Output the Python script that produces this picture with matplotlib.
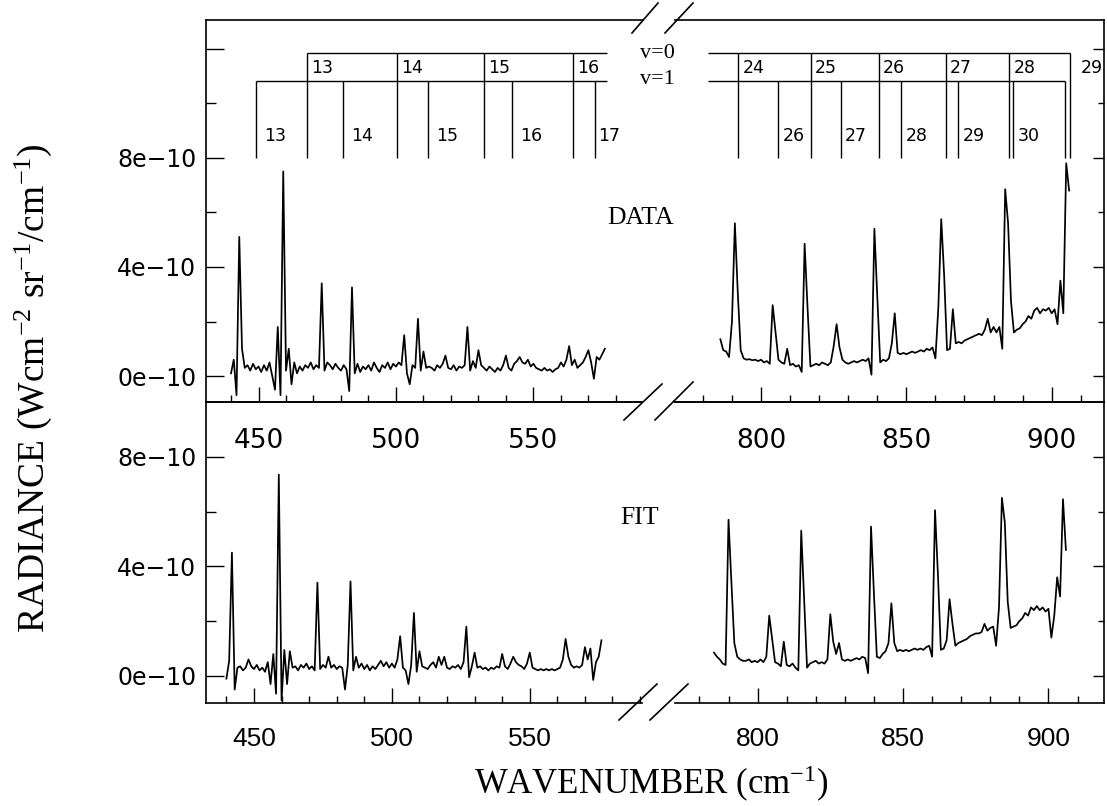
import numpy as np
import matplotlib
matplotlib.use("Agg")
import matplotlib.pyplot as plt
from matplotlib.lines import Line2D
from matplotlib.ticker import FixedLocator, MultipleLocator, FuncFormatter
from matplotlib import font_manager

plt.rcParams['mathtext.fontset'] = 'custom'
plt.rcParams['mathtext.rm'] = 'Liberation Serif'
plt.rcParams['mathtext.it'] = 'Liberation Serif:italic'

SCALE = 1e-10  # radiance values below are in units of 1e-10 W cm^-2 sr^-1 / cm^-1

# ---------------- data ----------------
wn_left_first, wn_left_last = 440, 576
wn_data_right_first, wn_data_right_last = 786, 906
wn_fit_right_first, wn_fit_right_last = 785, 906

data_left = [
    0.1, 0.6, -0.7, 5.1, 1.0, 0.3, 0.4, 0.2, 0.45, 0.25,
    0.35, 0.15, 0.4, 0.2, 0.5, 0.0, -0.5, 1.8, -0.7, 7.5,
    0.2, 1.0, -0.3, 0.5, 0.1, 0.35, 0.2, 0.4, 0.3, 0.5,
    0.25, 0.4, 0.3, 3.4, 0.2, 0.5, 0.4, 0.25, 0.45, 0.3,
    0.2, 0.4, 0.25, -0.55, 3.25, 0.1, 0.45, 0.15, 0.35, 0.25,
    0.4, 0.2, 0.5, 0.3, 0.15, 0.4, 0.3, 0.5, 0.25, 0.45,
    0.35, 0.5, 0.4, 1.5, 0.1, -0.3, 0.4, 0.3, 2.1, 0.2,
    0.9, 0.3, 0.35, 0.3, 0.2, 0.4, 0.3, 0.45, 0.75, 0.3,
    0.25, 0.4, 0.2, 0.35, 0.3, 0.4, 1.8, 0.2, 0.55, 0.3,
    0.95, 0.4, 0.3, 0.2, 0.35, 0.25, 0.15, 0.3, 0.2, 0.4,
    0.75, 0.3, 0.2, 0.45, 0.55, 0.7, 0.5, 0.45, 0.6, 0.35,
    0.45, 0.3, 0.25, 0.2, 0.3, 0.2, 0.25, 0.15, 0.25, 0.3,
    0.5, 0.35, 0.6, 1.1, 0.4, 0.6, 0.3, 0.4, 0.5, 0.7,
    0.95, 0.5, -0.1, 0.7, 0.6, 0.8, 1.0,
]

data_right = [
    1.35, 0.95, 0.9, 0.7, 2.0, 5.6, 3.05, 0.95, 0.65, 0.6,
    0.62, 0.58, 0.6, 0.55, 0.6, 0.5, 0.55, 0.45, 2.6, 1.6,
    0.6, 0.5, 0.45, 1.0, 0.4, 0.45, 0.35, 0.4, 0.15, 4.85,
    2.5, 0.35, 0.4, 0.45, 0.4, 0.5, 0.45, 0.4, 0.5, 1.1,
    1.9, 1.05, 0.6, 0.5, 0.45, 0.5, 0.55, 0.5, 0.55, 0.6,
    0.55, 0.65, 0.05, 5.4, 2.9, 0.5, 0.6, 0.55, 0.65, 1.2,
    2.3, 0.85, 0.8, 0.85, 0.8, 0.85, 0.9, 0.85, 0.9, 0.95,
    0.9, 1.0, 0.95, 1.05, 0.65, 2.5, 5.75, 3.7, 0.95, 1.0,
    2.45, 1.2, 1.25, 1.2, 1.3, 1.35, 1.4, 1.45, 1.5, 1.55,
    1.5, 1.7, 2.1, 1.6, 1.8, 1.6, 1.8, 1.0, 6.85, 5.6,
    2.75, 1.6, 1.7, 1.75, 1.9, 2.0, 2.2, 2.1, 2.4, 2.5,
    2.3, 2.45, 2.4, 2.5, 2.3, 2.45, 1.9, 3.5, 2.3, 7.8,
    6.8,
]

fit_left = [
    -0.1, 0.55, 4.5, -0.5, 0.3, 0.35, 0.2, 0.3, 0.6, 0.35,
    0.25, 0.4, 0.2, 0.3, 0.15, 0.5, -0.3, 0.8, -0.65, 7.35,
    -0.9, 0.95, -0.3, 0.9, 0.3, 0.35, 0.2, 0.4, 0.3, 0.45,
    0.25, 0.35, 0.2, 3.4, 0.25, 0.4, 0.3, 0.7, 0.3, 0.4,
    0.25, 0.35, 0.3, -0.5, 0.4, 3.45, 0.2, 0.7, 0.3, 0.45,
    0.25, 0.4, 0.2, 0.35, 0.25, 0.4, 0.55, 0.35, 0.5, 0.3,
    0.45, 0.3, 0.6, 1.45, 0.3, 0.2, -0.3, 0.4, 2.3, 0.15,
    0.9, 0.35, 0.3, 0.25, 0.4, 0.5, 0.3, 0.7, 0.4, 0.7,
    0.3, 0.25, 0.35, 0.3, 0.4, 0.25, 0.5, 1.8, -0.05, 0.35,
    0.85, 0.3, 0.35, 0.25, 0.3, 0.2, 0.3, 0.25, 0.35, 0.3,
    0.8, 0.35, 0.25, 0.45, 0.7, 0.5, 0.4, 0.35, 0.25, 0.45,
    0.85, 0.3, 0.25, 0.2, 0.25, 0.2, 0.25, 0.2, 0.25, 0.2,
    0.25, 0.3, 0.6, 1.35, 0.7, 0.4, 0.3, 0.35, 0.3, 0.4,
    1.05, 0.6, 1.0, -0.15, 0.5, 0.7, 1.3,
]

fit_right = [
    0.85, 0.7, 0.6, 0.45, 0.4, 5.7, 3.4, 1.2, 0.7, 0.6,
    0.55, 0.55, 0.6, 0.5, 0.55, 0.5, 0.6, 0.5, 0.7, 2.2,
    1.35, 0.5, 0.45, 0.35, 1.25, 0.4, 0.35, 0.45, 0.3, 0.2,
    5.3, 2.8, 0.3, 0.45, 0.5, 0.55, 0.45, 0.5, 0.45, 0.6,
    2.25, 1.25, 0.8, 1.2, 0.6, 0.55, 0.6, 0.55, 0.6, 0.65,
    0.6, 0.7, 0.65, 0.1, 5.45, 3.0, 0.7, 0.65, 0.8, 0.9,
    1.2, 2.65, 1.2, 0.9, 0.95, 0.9, 0.95, 0.9, 0.95, 1.0,
    0.95, 1.0, 0.95, 1.05, 1.1, 0.7, 6.05, 3.7, 0.95, 1.0,
    1.3, 2.8, 1.9, 1.1, 1.2, 1.25, 1.3, 1.35, 1.45, 1.5,
    1.55, 1.55, 1.6, 1.9, 1.65, 1.75, 1.8, 1.1, 2.5, 6.5,
    5.6, 2.7, 1.75, 1.8, 1.85, 2.0, 2.1, 2.3, 2.2, 2.5,
    2.4, 2.55, 2.4, 2.5, 2.35, 2.45, 1.4, 2.2, 3.6, 2.9,
    6.45, 4.6,
]

# band-head assignments (cm^-1) for v=0 and v=1 progressions
v0_left_pos = [467.6, 500.4, 532.0, 564.4]
v0_left_lab = ["13", "14", "15", "16"]
v1_left_pos = [449.1, 480.6, 511.6, 542.1, 572.4]
v1_left_lab = ["13", "14", "15", "16", "17"]
v0_right_pos = [792.2, 817.1, 840.6, 863.5, 885.4, 906.3]
v0_right_lab = ["24", "25", "26", "27", "28", "29"]
v1_right_pos = [806.0, 827.4, 848.2, 867.9, 886.8, 904.6]
v1_right_lab = ["26", "27", "28", "29", "30", ""]
left_bar_end = 576.7
right_bar_start = 781.8

# ---------------- figure ----------------
W, H = 1107, 806
fig = plt.figure(figsize=(W / 100, H / 100), dpi=100)


def rect(x0, x1, y0, y1):
    return [x0 / W, 1 - y1 / H, (x1 - x0) / W, (y1 - y0) / H]


ax_tl = fig.add_axes(rect(206, 642, 20, 402))
ax_tr = fig.add_axes(rect(675, 1104, 20, 402))
ax_bl = fig.add_axes(rect(206, 642, 402, 703))
ax_br = fig.add_axes(rect(675, 1104, 402, 703))

wl = np.arange(wn_left_first, wn_left_last + 1)
wr_d = np.arange(wn_data_right_first, wn_data_right_last + 1)
wr_f = np.arange(wn_fit_right_first, wn_fit_right_last + 1)

lw_data = 1.25
ax_tl.plot(wl, np.array(data_left) * SCALE, color='black', lw=lw_data)
ax_tr.plot(wr_d, np.array(data_right) * SCALE, color='black', lw=lw_data)
ax_bl.plot(wl, np.array(fit_left) * SCALE, color='black', lw=lw_data)
ax_br.plot(wr_f, np.array(fit_right) * SCALE, color='black', lw=lw_data)

ax_tl.set_xlim(430.9, 589.5)
ax_bl.set_xlim(432.6, 590.7)
ax_tr.set_xlim(770.4, 918.0)
ax_br.set_xlim(771.6, 919.1)
for a in (ax_tl, ax_tr):
    a.set_ylim(-0.95 * SCALE, 13.05 * SCALE)
for a in (ax_bl, ax_br):
    a.set_ylim(-0.99 * SCALE, 10.0 * SCALE)

# narrow font for lower x labels if available
try:
    font_manager.findfont('Liberation Sans Narrow', fallback_to_default=False)
    narrow = 'Liberation Sans Narrow'
except Exception:
    narrow = 'Liberation Sans'


def yfmt(v, pos):
    n = int(round(v / SCALE))
    if n > 8:
        return ''
    return f"{n}e\u221210"


for a in (ax_tl, ax_tr, ax_bl, ax_br):
    a.patch.set_visible(False)
    for s in a.spines.values():
        s.set_linewidth(1.2)
    a.xaxis.set_major_locator(MultipleLocator(50))
    a.xaxis.set_minor_locator(MultipleLocator(10))
    a.tick_params(axis='x', which='both', direction='in', top=False, bottom=True, width=1.0)
    a.tick_params(axis='x', which='major', length=10.5)
    a.tick_params(axis='x', which='minor', length=5)

for a in (ax_tl, ax_tr):
    a.yaxis.set_major_locator(FixedLocator([0, 4 * SCALE, 8 * SCALE, 12 * SCALE]))
    a.yaxis.set_minor_locator(FixedLocator([2 * SCALE, 6 * SCALE, 10 * SCALE]))
    a.tick_params(axis='x', labelsize=19, pad=19, labelfontfamily='DejaVu Sans')
for a in (ax_bl, ax_br):
    a.yaxis.set_major_locator(FixedLocator([0, 4 * SCALE, 8 * SCALE]))
    a.yaxis.set_minor_locator(FixedLocator([2 * SCALE, 6 * SCALE]))
    a.tick_params(axis='x', labelsize=19, pad=17, labelfontfamily=narrow)

for a in (ax_tl, ax_bl):
    a.spines['right'].set_visible(False)
    a.yaxis.set_major_formatter(FuncFormatter(yfmt))
    a.tick_params(axis='y', which='both', direction='in', left=True, right=False,
                  labelsize=17, pad=7, width=1.0, labelfontfamily='DejaVu Sans')
    a.tick_params(axis='y', which='major', length=13)
    a.tick_params(axis='y', which='minor', length=7)
for a in (ax_tr, ax_br):
    a.spines['left'].set_visible(False)
    a.tick_params(axis='y', which='both', direction='in', left=False, right=True,
                  labelleft=False, labelright=False, width=1.0)
    a.tick_params(axis='y', which='major', length=8)
    a.tick_params(axis='y', which='minor', length=4)

# ---------------- band assignment bars ----------------
y_v0, y_v1, y_bot = 11.84 * SCALE, 10.81 * SCALE, 8.0 * SCALE
y_lab0, y_lab1 = 11.3 * SCALE, 8.8 * SCALE
lab_kw = dict(fontsize=12.5, family='DejaVu Sans', va='center', ha='left')
lw_b = 1.0

ax_tl.hlines(y_v0, v0_left_pos[0], left_bar_end, color='k', lw=lw_b)
ax_tl.hlines(y_v1, v1_left_pos[0], left_bar_end, color='k', lw=lw_b)
ax_tl.vlines(v0_left_pos, y_bot, y_v0, color='k', lw=lw_b)
ax_tl.vlines(v1_left_pos, y_bot, y_v1, color='k', lw=lw_b)
for p, t in zip(v0_left_pos, v0_left_lab):
    ax_tl.annotate(t, (p, y_lab0), xytext=(3, 0), textcoords='offset points', **lab_kw)
for i, (p, t) in enumerate(zip(v1_left_pos, v1_left_lab)):
    off = 6 if i < len(v1_left_pos) - 1 else 2
    ax_tl.annotate(t, (p, y_lab1), xytext=(off, 0), textcoords='offset points', **lab_kw)

ax_tr.hlines(y_v0, right_bar_start, v0_right_pos[-1], color='k', lw=lw_b)
ax_tr.hlines(y_v1, right_bar_start, v1_right_pos[-1], color='k', lw=lw_b)
ax_tr.vlines(v0_right_pos, y_bot, y_v0, color='k', lw=lw_b)
ax_tr.vlines(v1_right_pos, y_bot, y_v1, color='k', lw=lw_b)
for i, (p, t) in enumerate(zip(v0_right_pos, v0_right_lab)):
    off = 8 if i == len(v0_right_pos) - 1 else 3
    ax_tr.annotate(t, (p, y_lab0), xytext=(off, 0), textcoords='offset points',
                   annotation_clip=False, **lab_kw)
for p, t in zip(v1_right_pos, v1_right_lab):
    ax_tr.annotate(t, (p, y_lab1), xytext=(3, 0), textcoords='offset points', **lab_kw)

# ---------------- texts ----------------
serif = 'Liberation Serif'


def ftext(x, y, s, **kw):
    fig.text(x / W, 1 - y / H, s, **kw)


ftext(640, 53, "v=0", family=serif, fontsize=16, ha='left', va='center')
ftext(640, 80, "v=1", family=serif, fontsize=16, ha='left', va='center')
ftext(641, 218, "DATA", family=serif, fontsize=18.5, ha='center', va='center')
ftext(640, 518, "FIT", family=serif, fontsize=18.5, ha='center', va='center')
ftext(651, 784, "WAVENUMBER (cm$^{-1}$)", family=serif, fontsize=25, ha='center', va='center')
ftext(33, 388, "RADIANCE (Wcm$^{-2}$ sr$^{-1}$/cm$^{-1}$)", family=serif, fontsize=27,
      ha='center', va='center', rotation=90)


# ---------------- axis-break marks ----------------
def slash(xc, yc, dx, dy):
    fig.add_artist(Line2D([(xc - dx) / W, (xc + dx) / W],
                          [1 - (yc + dy) / H, 1 - (yc - dy) / H],
                          color='black', lw=1.2))


for (xc, yc, dx, dy) in [(645, 18, 13, 15), (679, 18, 14, 15),
                         (643, 402, 19, 18), (674, 401, 19, 19),
                         (638, 702, 19, 18), (669, 702, 19, 18)]:
    slash(xc, yc, dx, dy)

fig.savefig("out.png", dpi=100)
